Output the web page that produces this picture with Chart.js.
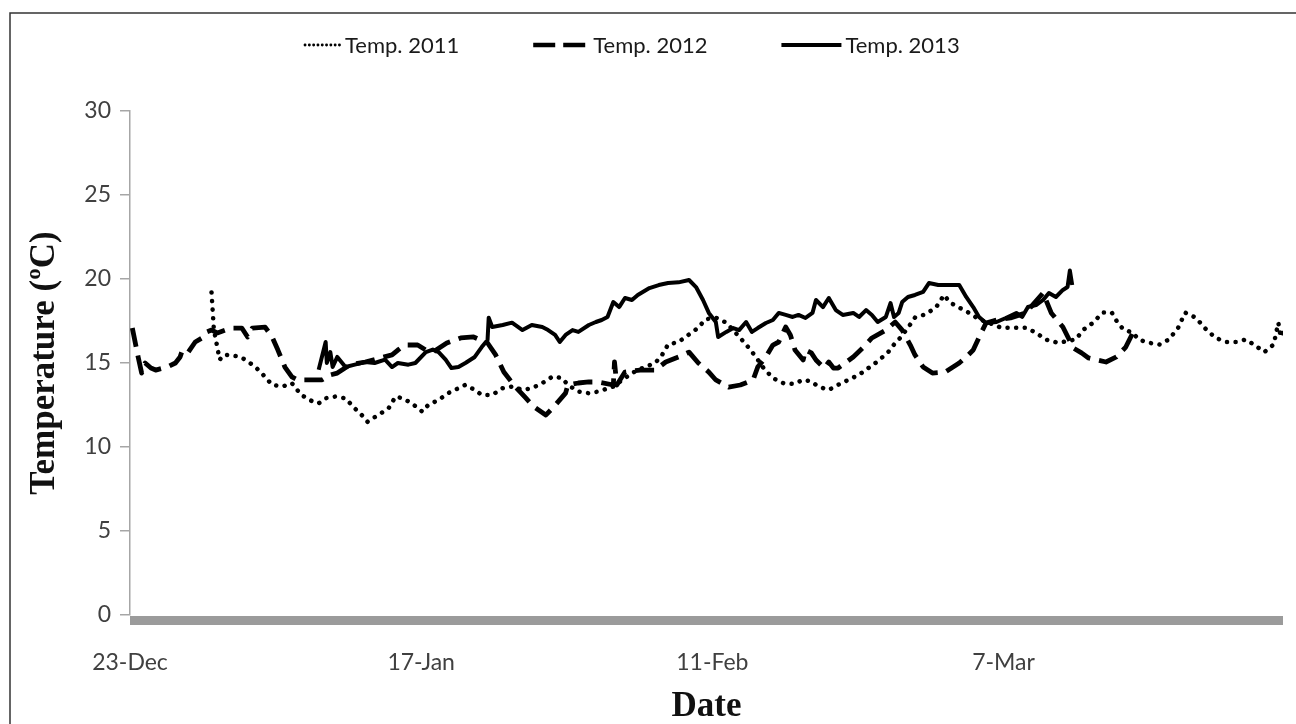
<!DOCTYPE html>
<html>
<head>
<meta charset="utf-8">
<script src="https://cdn.jsdelivr.net/npm/chart.js@4.4.1/dist/chart.umd.min.js"></script>
<style>
  html, body { margin: 0; padding: 0; background: #fff; }
  #chart { display: block; }
</style>
</head>
<body>
<canvas id="chart" width="1296" height="724"></canvas>
<script>
// x = days since 23-Dec (axis runs to 31-Mar), y = temperature in degC
var tickDays = [0, 25, 50, 75];
var tickLabels = ['23-Dec', '17-Jan', '11-Feb', '7-Mar'];
var seriesLabels = ['Temp. 2011', 'Temp. 2012', 'Temp. 2013'];

var day2011 = [7.0,7.2,7.7,8.1,9.3,9.9,10.7,11.3,12.2,13.1,13.9,14.7,15.7,16.2,16.8,17.6,18.5,19.3,19.9,20.4,21.3,22.2,22.8,23.4,24.2,25.1,25.6,26.5,27.3,28.2,28.8,29.6,30.2,31.1,32.0,32.8,33.7,34.5,35.4,36.3,37.1,37.6,38.5,39.4,40.2,41.5,42.3,43.1,44.0,45.1,45.7,46.2,47.1,48.0,48.8,49.4,50.3,51.2,52.0,52.9,53.7,54.4,55.2,56.1,57.0,57.8,58.5,59.1,60.0,60.8,61.7,62.6,63.4,64.2,65.1,65.6,66.2,66.8,67.4,68.3,69.2,69.9,70.4,71.2,72.0,72.9,73.7,74.8,75.8,76.9,77.8,78.6,79.7,81.2,81.9,82.7,83.5,84.3,84.8,85.3,86.1,86.6,87.5,88.4,89.2,90.0,90.6,91.5,92.4,93.2,94.1,95.0,95.8,96.5,97.4,98.2,98.6,98.8,99.0];
var temp2011 = [19.2,17.0,15.2,15.5,15.4,15.2,14.8,14.4,13.7,13.6,13.8,13.1,12.7,12.6,12.9,13.0,12.9,12.3,11.9,11.5,11.9,12.3,13.0,12.9,12.6,12.1,12.5,12.8,13.2,13.5,13.7,13.4,13.1,13.1,13.5,13.6,13.4,13.5,13.8,14.2,14.1,13.7,13.3,13.2,13.3,13.6,14.0,14.4,14.7,15.0,15.5,16.1,16.25,16.7,17.1,17.6,17.7,17.4,16.8,16.1,15.4,14.7,14.1,13.8,13.75,14.0,13.9,13.6,13.4,13.7,14.0,14.3,14.7,15.1,15.65,16.1,16.55,17.1,17.7,17.9,18.3,19.05,18.6,18.3,18.0,17.6,17.4,17.1,17.1,17.1,16.8,16.4,16.2,16.4,17.0,17.4,18.0,18.0,17.4,17.0,16.8,16.4,16.2,16.1,16.4,17.1,18.0,17.7,17.0,16.5,16.25,16.25,16.4,16.1,15.65,16.1,17.4,16.55,16.85];

var day2012 = [0.2,0.7,1.0,1.3,1.8,2.2,3.2,3.9,4.3,4.5,5.0,5.6,6.2,6.6,7.0,7.5,8.2,8.8,9.6,10.1,10.5,11.6,12.2,12.7,13.3,13.9,14.4,15.2,16.5,17.2,17.8,18.9,20.2,21.5,22.5,23.0,23.6,24.7,25.4,26.0,27.2,28.4,29.5,30.7,31.4,32.1,33.1,33.9,34.7,35.7,36.3,37.4,37.6,38.5,39.4,40.2,41.5,41.6,41.8,42.5,43.8,45.1,46.0,47.1,48.0,48.8,49.7,50.3,51.4,52.4,53.5,53.9,54.6,55.2,55.7,56.3,56.7,57.1,57.8,58.0,58.5,58.9,59.6,60.0,60.4,60.8,62.1,62.9,63.7,64.9,65.7,66.3,67.0,67.4,68.1,68.9,70.0,71.2,71.8,72.4,73.0,73.5,74.4,75.6,76.9,78.4,79.1,80.1,81.0,81.7,82.3,83.8,84.7,85.5,86.1];
var temp2012 = [17.08,15.36,14.4,15.0,14.7,14.58,14.76,15.0,15.36,15.77,15.65,16.25,16.49,16.85,16.96,16.79,16.96,17.08,17.08,16.55,17.08,17.14,16.55,15.77,14.76,14.17,13.99,13.99,14.0,14.29,14.4,14.9,15.06,15.3,15.48,15.77,16.07,16.07,15.77,15.65,16.19,16.49,16.55,16.19,15.48,14.46,13.57,12.98,12.38,11.9,12.32,13.21,13.69,13.81,13.87,13.87,13.69,15.06,13.69,14.46,14.58,14.58,15.06,15.36,15.65,15.0,14.46,13.99,13.57,13.69,13.99,14.76,15.36,16.07,16.25,17.14,16.67,15.77,15.18,15.77,15.6,15.18,14.7,15.06,14.7,14.7,15.36,15.89,16.49,16.96,17.44,16.96,16.07,15.48,14.76,14.4,14.46,15.0,15.36,15.77,16.67,17.38,17.56,17.68,17.98,19.17,17.98,17.14,15.89,15.6,15.3,15.06,15.36,15.95,16.79];

var day2013 = [16.2,16.8,16.9,17.2,17.4,17.8,18.5,19.3,20.2,21.0,21.9,22.5,23.0,23.9,24.5,25.4,26.0,26.5,27.1,27.6,28.2,28.8,29.6,30.2,30.7,30.8,31.1,32.0,32.8,33.7,34.5,35.4,35.9,36.5,36.9,37.4,38.0,38.5,39.4,40.0,40.5,41.0,41.5,42.0,42.5,43.1,43.6,44.6,45.4,46.2,47.1,48.0,48.6,49.2,49.7,50.3,50.5,51.2,51.8,52.3,52.9,53.4,53.9,54.6,55.2,55.7,56.3,56.9,57.4,58.0,58.6,58.9,59.5,60.0,60.6,61.2,62.1,62.6,63.2,63.7,64.2,64.9,65.3,65.6,66.0,66.3,66.8,67.4,68.1,68.6,69.4,70.3,71.2,71.8,72.4,72.9,73.5,74.4,75.2,76.1,76.6,77.1,77.8,78.4,78.9,79.5,80.1,80.5,80.7,80.9];
var temp2013 = [14.6,16.25,15.0,15.65,14.76,15.36,14.76,14.9,15.06,15.0,15.2,14.76,15.0,14.9,15.0,15.65,15.8,15.65,15.2,14.7,14.76,15.0,15.36,15.95,16.37,17.7,17.14,17.26,17.4,16.96,17.26,17.14,16.96,16.67,16.25,16.67,16.96,16.85,17.26,17.44,17.56,17.74,18.63,18.33,18.87,18.75,19.05,19.46,19.64,19.76,19.8,19.94,19.52,18.75,17.98,17.44,16.55,16.85,17.08,16.96,17.44,16.85,17.08,17.38,17.56,17.98,17.86,17.74,17.86,17.68,17.98,18.75,18.33,18.87,18.15,17.86,17.98,17.74,18.15,17.86,17.44,17.74,18.57,17.74,17.98,18.63,18.93,19.05,19.23,19.76,19.64,19.64,19.64,18.93,18.33,17.74,17.38,17.44,17.68,17.98,17.74,18.33,18.45,18.75,19.17,18.93,19.35,19.52,20.5,19.64];

var TICK_FONT = { family: 'Lato', size: 23 };
var TITLE_FONT = { family: 'Liberation Serif', size: 35, weight: 'bold', lineHeight: 1 };

function points(days, temps) {
  var n = Math.min(days.length, temps.length);
  var out = [];
  for (var i = 0; i < n; i++) out.push({ x: days[i], y: temps[i] });
  return out;
}

// legend drawn by hand: Excel style, short symbol right before the text
var legendSymbols = [
  { len: 36, width: 2.8, dash: [0.1, 4.2], cap: 'round' },
  { len: 56, width: 4.5, dash: [22, 8], cap: 'butt' },
  { len: 60, width: 4, dash: [], cap: 'butt' }
];

var legendPlugin = {
  id: 'excelLegend',
  afterDraw: function (chart) {
    var ctx = chart.ctx;
    var x = 305, y = 45;
    ctx.save();
    ctx.font = '22px Lato';
    ctx.textBaseline = 'middle';
    ctx.fillStyle = '#1a1a1a';
    chart.data.datasets.forEach(function (ds, i) {
      var s = legendSymbols[i];
      ctx.beginPath();
      ctx.setLineDash(s.dash);
      ctx.lineCap = s.cap;
      ctx.lineWidth = s.width;
      ctx.strokeStyle = '#000';
      ctx.moveTo(x, y);
      ctx.lineTo(x + s.len, y);
      ctx.stroke();
      x += s.len + 4;
      ctx.fillText(ds.label, x, y + 1);
      x += ctx.measureText(ds.label).width + 74;
    });
    ctx.restore();
  }
};

// grey band under the zero line + outer frame
var framePlugin = {
  id: 'frame',
  beforeDatasetsDraw: function (chart) {
    var a = chart.chartArea, ctx = chart.ctx;
    ctx.save();
    ctx.fillStyle = '#9b9b9b';
    ctx.fillRect(a.left, a.bottom + 1, a.right - a.left, 9);
    ctx.restore();
  },
  afterDraw: function (chart) {
    var ctx = chart.ctx;
    ctx.save();
    ctx.strokeStyle = '#333';
    ctx.lineWidth = 1.5;
    ctx.strokeRect(10, 13, chart.width + 40, chart.height + 40);
    ctx.restore();
  }
};

new Chart(document.getElementById('chart').getContext('2d'), {
  type: 'line',
  data: {
    datasets: [
      {
        label: seriesLabels[0],
        data: points(day2011, temp2011),
        borderColor: '#000',
        borderWidth: 4.5,
        borderDash: [0.1, 8.5],
        borderCapStyle: 'round',
        pointRadius: 0,
        tension: 0,
        fill: false
      },
      {
        label: seriesLabels[1],
        data: points(day2012, temp2012),
        borderColor: '#000',
        borderWidth: 4.8,
        borderDash: [19, 9],
        borderCapStyle: 'butt',
        borderJoinStyle: 'round',
        pointRadius: 0,
        tension: 0,
        fill: false
      },
      {
        label: seriesLabels[2],
        data: points(day2013, temp2013),
        borderColor: '#000',
        borderWidth: 4,
        borderJoinStyle: 'round',
        pointRadius: 0,
        tension: 0,
        fill: false
      }
    ]
  },
  options: {
    responsive: false,
    animation: false,
    layout: { padding: { left: 27, right: 13, top: 111, bottom: 0 } },
    plugins: {
      legend: { display: false },
      tooltip: { enabled: false }
    },
    scales: {
      x: {
        type: 'linear',
        min: 0,
        max: 99,
        afterBuildTicks: function (scale) {
          scale.ticks = tickDays.map(function (v) { return { value: v }; });
        },
        afterFit: function (scale) { scale.height = 109; },
        grid: { display: false },
        border: { display: false },
        ticks: {
          autoSkip: false,
          maxRotation: 0,
          padding: 26,
          color: '#404040',
          font: TICK_FONT,
          callback: function (v) {
            var i = tickDays.indexOf(v);
            return i >= 0 ? tickLabels[i] : '';
          }
        },
        title: {
          display: true,
          text: 'Date',
          color: '#111',
          font: TITLE_FONT,
          padding: { top: 0, bottom: 0 }
        }
      },
      y: {
        min: 0,
        max: 30,
        afterFit: function (scale) { scale.width = 103; },
        grid: {
          drawOnChartArea: false,
          drawTicks: true,
          tickLength: 10,
          color: '#a6a6a6',
          lineWidth: 1.5
        },
        border: { display: true, color: '#a6a6a6', width: 1.5 },
        ticks: {
          stepSize: 5,
          padding: 9,
          color: '#404040',
          font: TICK_FONT
        },
        title: {
          display: true,
          text: 'Temperature (ºC)',
          color: '#111',
          font: TITLE_FONT,
          padding: { top: 0, bottom: 0 }
        }
      }
    }
  },
  plugins: [framePlugin, legendPlugin]
});
</script>
</body>
</html>
